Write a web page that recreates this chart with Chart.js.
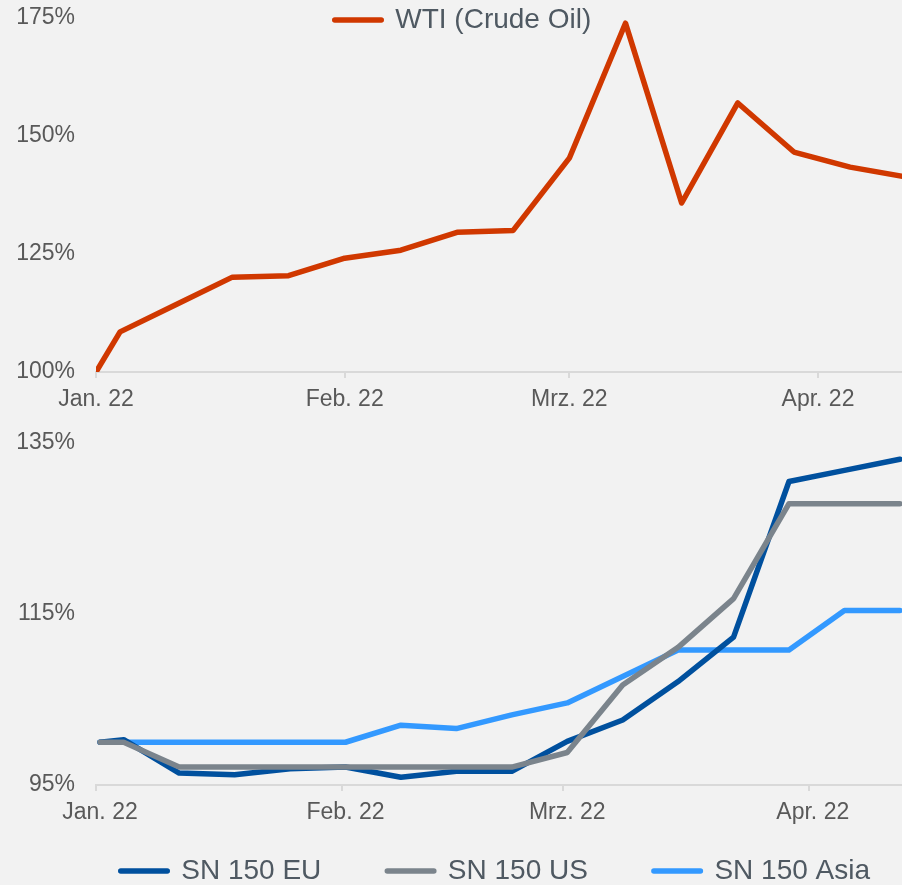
<!DOCTYPE html>
<html>
<head>
<meta charset="utf-8">
<script src="https://cdn.jsdelivr.net/npm/chart.js@4/dist/chart.umd.min.js"></script>
<style>
html,body{margin:0;padding:0;background:#f2f2f2;overflow:hidden;}
#wrap{position:relative;width:902px;height:885px;background:#f2f2f2;}
canvas{position:absolute;left:0;}
#c1{top:0;}
#c2{top:420px;}
</style>
</head>
<body>
<div id="wrap">
<canvas id="c1" width="902" height="420"></canvas>
<canvas id="c2" width="902" height="465"></canvas>
</div>
<script>
// ---- data (x = days since 1 Jan 2022) ----
const days = [0, 3, 10, 17, 24, 31, 38, 45, 52, 59, 66, 73, 80, 87, 94, 101];
const wti = [100, 108.5, 114.3, 120.1, 120.4, 124.1, 125.8, 129.6, 130.0, 145.3, 173.9, 135.8, 157.0, 146.6, 143.4, 141.3];
const sn150EU = [100, 100.3, 96.4, 96.2, 96.9, 97.1, 95.9, 96.6, 96.6, 100.1, 102.6, 107.1, 112.3, 130.5, 131.8, 133.1];
const sn150US = [100, 100, 97.1, 97.1, 97.1, 97.1, 97.1, 97.1, 97.1, 98.8, 106.7, 111.1, 116.8, 127.9, 127.9, 127.9];
const sn150Asia = [100, 100, 100, 100, 100, 100, 102.0, 101.6, 103.2, 104.6, 107.7, 110.8, 110.8, 110.8, 115.4, 115.4];

const monthDays = [0, 31, 59, 90];
const monthLabels = ['Jan. 22', 'Feb. 22', 'Mrz. 22', 'Apr. 22'];
const topYTicks = [100, 125, 150, 175];
const bottomYTicks = [95, 115, 135];

// ---- styling ----
const FONT = "'Liberation Sans', Arial, sans-serif";
const TICK_COLOR = '#595959';
const LEGEND_COLOR = '#4f5962';
const AXIS_COLOR = '#d9d9d9';
const TICK_FONT = 23;
const LW = 5.5;

Chart.defaults.font.family = FONT;

const legendPlacer = {
  id: 'legendPlacer',
  afterLayout(chart, args, opts) {
    const lg = chart.legend;
    if (!lg || opts.cx === undefined) return;
    const pad = opts.pad, fs = opts.fs;
    lg.left = opts.cx - 2000;
    lg.right = opts.cx + 2000;
    lg.top = opts.cy - fs / 2 - pad;
    lg.bottom = lg.top + 600;
  }
};

function xy(vals) { return days.map((d, i) => ({x: d, y: vals[i]})); }

function lineDs(label, vals, color, order) {
  return {
    label, data: xy(vals), borderColor: color, backgroundColor: color,
    borderWidth: LW, pointRadius: 0, pointHoverRadius: 0, tension: 0,
    borderCapStyle: 'round', borderJoinStyle: 'round', fill: false, order
  };
}

function legendLabels(pad) {
  return {
    usePointStyle: true, pointStyle: 'line', pointStyleWidth: 46.5,
    color: LEGEND_COLOR, font: {family: FONT, size: 28}, padding: pad,
    sort: (a, b) => a.datasetIndex - b.datasetIndex,
    generateLabels: (chart) => Chart.defaults.plugins.legend.labels.generateLabels(chart).map(l => ({
      ...l, lineCap: 'round', lineWidth: LW,
      strokeStyle: chart.data.datasets[l.datasetIndex].borderColor
    }))
  };
}

function xScale(min, max, tickShift, labelOffset) {
  return {
    type: 'linear', min, max,
    afterBuildTicks: s => { s.ticks = monthDays.map(v => ({value: v + tickShift})); },
    afterFit: s => { s.height = 48; },
    ticks: {
      callback: (v, i) => monthLabels[i], color: TICK_COLOR,
      font: {family: FONT, size: TICK_FONT}, padding: 8, maxRotation: 0, minRotation: 0,
      autoSkip: false, labelOffset
    },
    grid: {display: true, drawOnChartArea: false, drawTicks: true, tickLength: 6, color: AXIS_COLOR, lineWidth: 2},
    border: {display: true, color: AXIS_COLOR, width: 2}
  };
}

function yScale(ticksArr) {
  return {
    type: 'linear', min: ticksArr[0], max: ticksArr[ticksArr.length - 1],
    afterBuildTicks: s => { s.ticks = ticksArr.map(v => ({value: v})); },
    afterFit: s => { s.width = 96; s.paddingTop = 0; s.paddingBottom = 0; },
    ticks: {callback: v => v + '%', color: TICK_COLOR, font: {family: FONT, size: TICK_FONT}, padding: 21},
    grid: {display: false, drawTicks: false, tickLength: 0},
    border: {display: false}
  };
}

// ---- top chart: WTI ----
new Chart(document.getElementById('c1'), {
  type: 'line',
  data: {datasets: [lineDs('WTI (Crude Oil)', wti, '#d03800', 0)]},
  options: {
    responsive: false, animation: false, devicePixelRatio: 1, events: [],
    layout: {padding: {top: 17, left: 0, right: 0, bottom: 0}},
    scales: {x: xScale(0, 100.47, 0, 0), y: yScale(topYTicks)},
    plugins: {
      legend: {position: 'top', align: 'center', maxHeight: 1, labels: legendLabels(10)},
      tooltip: {enabled: false},
      legendPlacer: {cx: 463, cy: 20, pad: 10, fs: 28}
    }
  },
  plugins: [legendPlacer]
});

// ---- bottom chart: SN 150 ----
new Chart(document.getElementById('c2'), {
  type: 'line',
  data: {datasets: [
    lineDs('SN 150 EU', sn150EU, '#00509e', 1),
    lineDs('SN 150 US', sn150US, '#7b848c', 0),
    lineDs('SN 150 Asia', sn150Asia, '#3399ff', 2)
  ]},
  options: {
    responsive: false, animation: false, devicePixelRatio: 1, events: [],
    layout: {padding: {top: 23, left: 0, right: 0, bottom: 0}},
    scales: {x: xScale(-0.5, 101.27, -0.5, 4), y: yScale(bottomYTicks)},
    plugins: {
      legend: {position: 'bottom', align: 'center', maxHeight: 52, labels: legendLabels(66)},
      tooltip: {enabled: false},
      legendPlacer: {cx: 495.4, cy: 451, pad: 66, fs: 28}
    }
  },
  plugins: [legendPlacer]
});
</script>
</body>
</html>
